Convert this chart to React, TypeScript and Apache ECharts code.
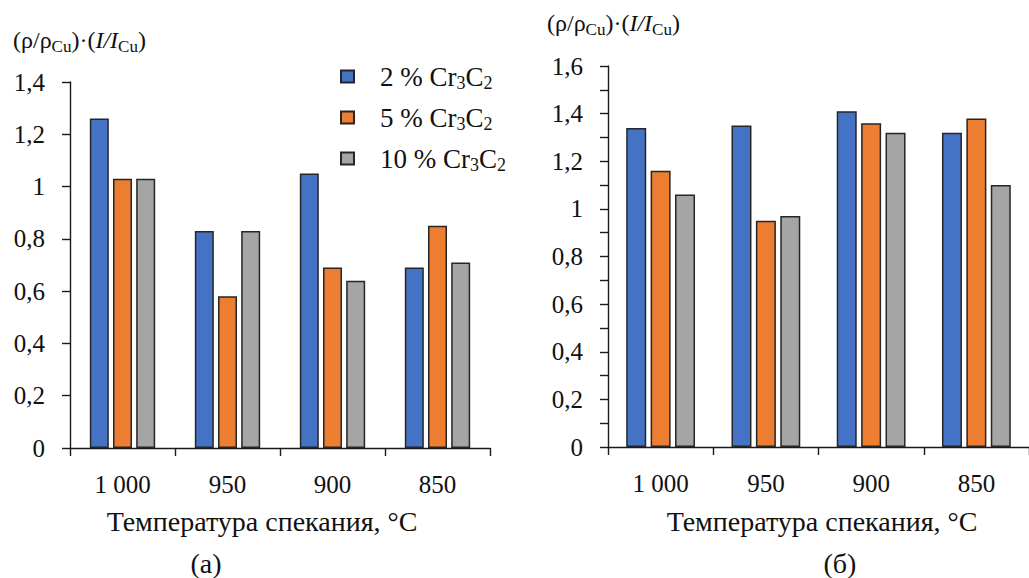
import React, { useEffect, useRef } from "react";
import * as echarts from "echarts";

const categories = ["1 000", "950", "900", "850"];
const seriesNames = ["2 % Cr3C2", "5 % Cr3C2", "10 % Cr3C2"];
const colors = ["#4472C4", "#ED7D31", "#A5A5A5"];

// Chart (а)
const leftBlue = [1.26, 0.83, 1.05, 0.69];
const leftOrange = [1.03, 0.58, 0.69, 0.85];
const leftGrey = [1.03, 0.83, 0.64, 0.71];

// Chart (б)
const rightBlue = [1.34, 1.35, 1.41, 1.32];
const rightOrange = [1.16, 0.95, 1.36, 1.38];
const rightGrey = [1.06, 0.97, 1.32, 1.1];

const xTitle = "Температура спекания, °C";
const FONT = "Times New Roman";

const fmt = (v: number) => (v === 0 ? "0" : String(+v.toFixed(1)).replace(".", ","));

const yTitleRich = {
  t: { fontSize: 24, fontFamily: FONT, fill: "#111", lineHeight: 30 },
  i: { fontSize: 24, fontFamily: FONT, fontStyle: "italic", fill: "#111", lineHeight: 30 },
  s: { fontSize: 17, fontFamily: FONT, fill: "#111", verticalAlign: "bottom", lineHeight: 30 },
};

export default function App() {
  const ref = useRef<HTMLDivElement>(null);
  useEffect(() => {
    if (!ref.current) return;
    const chart = echarts.init(ref.current, undefined, { renderer: "svg" });
    const axisLine = { lineStyle: { color: "#1a1a1a", width: 1.4 } };
    const mkX = (gridIndex: number) => ({
      type: "category",
      gridIndex,
      data: categories,
      axisLine,
      axisTick: { show: true, alignWithLabel: false, length: 8, lineStyle: { color: "#1a1a1a", width: 1.4 } },
      axisLabel: { color: "#111", fontSize: 25, fontFamily: FONT, margin: 24 },
    });
    const mkY = (gridIndex: number, max: number, minor: boolean) => ({
      type: "value",
      gridIndex,
      min: 0,
      max,
      interval: 0.2,
      axisLine: { show: true, ...axisLine },
      axisTick: { show: true, length: 8, lineStyle: { color: "#1a1a1a", width: 1.4 } },
      minorTick: minor ? { show: true, splitNumber: 2, length: 8, lineStyle: { color: "#1a1a1a", width: 1.4 } } : { show: false },
      splitLine: { show: false },
      axisLabel: { color: "#111", fontSize: 25, fontFamily: FONT, margin: 25, formatter: fmt },
    });
    const mkBar = (name: string, data: number[], idx: number, color: string, width: number, gap: string) => ({
      type: "bar",
      name,
      data,
      xAxisIndex: idx,
      yAxisIndex: idx,
      barWidth: width,
      barGap: gap,
      itemStyle: { color, borderColor: "#262626", borderWidth: 1.5 },
    });
    const legendFmt = (name: string) => {
      const pct = name.split(" Cr")[0];
      return `{sp|}{t|${pct} Cr}{s|3}{t|C}{s|2}`;
    };
    chart.setOption({
      animation: false,
      backgroundColor: "#fff",
      textStyle: { fontFamily: FONT },
      grid: [
        { left: 70, top: 82, width: 420, height: 366 },
        { left: 608, top: 66, width: 429, height: 381 },
      ],
      xAxis: [mkX(0), mkX(1)],
      yAxis: [mkY(0, 1.4, false), mkY(1, 1.6, true)],
      legend: {
        orient: "vertical",
        left: 335,
        top: 58,
        icon: "rect",
        itemWidth: 13,
        itemHeight: 12,
        itemGap: 12,
        data: seriesNames,
        formatter: legendFmt,
        textStyle: {
          fontFamily: FONT,
          rich: {
            sp: { width: 21 },
            t: { fontSize: 27, fontFamily: FONT, color: "#111", lineHeight: 31 },
            s: { fontSize: 18, fontFamily: FONT, color: "#111", verticalAlign: "bottom", lineHeight: 31 },
          },
        },
      },
      series: [
        mkBar(seriesNames[0], leftBlue, 0, colors[0], 19, "22%"),
        mkBar(seriesNames[1], leftOrange, 0, colors[1], 19, "22%"),
        mkBar(seriesNames[2], leftGrey, 0, colors[2], 19, "22%"),
        mkBar(seriesNames[0], rightBlue, 1, colors[0], 20, "22%"),
        mkBar(seriesNames[1], rightOrange, 1, colors[1], 20, "22%"),
        mkBar(seriesNames[2], rightGrey, 1, colors[2], 20, "22%"),
      ],
      graphic: [
        {
          type: "text",
          left: 13,
          top: 28,
          style: { text: "{t|(ρ/ρ}{s|Cu}{t|)·(}{i|I/I}{s|Cu}{t|)}", fontFamily: FONT, rich: yTitleRich },
        },
        {
          type: "text",
          left: 547,
          top: 11,
          style: { text: "{t|(ρ/ρ}{s|Cu}{t|)·(}{i|I/I}{s|Cu}{t|)}", fontFamily: FONT, rich: yTitleRich },
        },
        {
          type: "text",
          x: 262,
          y: 521,
          style: { text: xTitle, fontSize: 28, fontFamily: FONT, fill: "#111", align: "center", verticalAlign: "middle" },
        },
        {
          type: "text",
          x: 822,
          y: 521,
          style: { text: xTitle, fontSize: 28, fontFamily: FONT, fill: "#111", align: "center", verticalAlign: "middle" },
        },
        {
          type: "text",
          x: 206,
          y: 563,
          style: { text: "(а)", fontSize: 28, fontFamily: FONT, fill: "#111", align: "center", verticalAlign: "middle" },
        },
        {
          type: "text",
          x: 840,
          y: 563,
          style: { text: "(б)", fontSize: 28, fontFamily: FONT, fill: "#111", align: "center", verticalAlign: "middle" },
        },
      ],
    });
    return () => chart.dispose();
  }, []);
  return <div ref={ref} style={{ width: 1029, height: 578, position: "absolute", left: 0, top: 0 }} />;
}
